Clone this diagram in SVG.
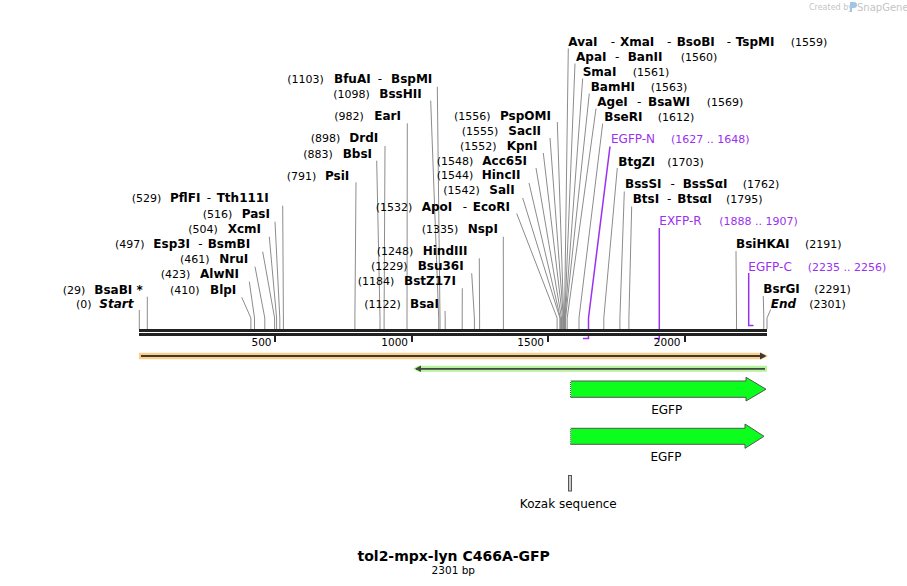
<svg xmlns="http://www.w3.org/2000/svg" width="907" height="586" viewBox="0 0 907 586">
<style>
text{font-family:"DejaVu Sans",Verdana,sans-serif;fill:#000}
.n{font-size:12px;font-weight:bold}
.i{font-style:italic}
.p{font-size:11px}
.s{font-size:12px}
.pu{fill:#9b30f0}
.t{font-size:10.5px}
.ln{fill:none;stroke:#8c8c8c;stroke-width:1}
.lp{fill:none;stroke:#9b30f0;stroke-width:1.5}
.feat{fill:#0cff1c;stroke:#555;stroke-width:1}
</style>
<rect width="907" height="586" fill="#fff"/>
<g id="logo">
<text x="809" y="10" style="font-size:8px;fill:#c4c4c4">Created by</text>
<path d="M850,2 h4 a2,2 0 0 1 0,6 h-2 v4 h-2 z" fill="#9fc6e8"/>
<text x="857" y="11" style="font-size:10px;fill:#c4c4c4">SnapGene</text>
</g>
<g id="connectors">
<polyline class="ln" points="568.3,48.5 564.5,318 564.5,329"/>
<polyline class="ln" points="575,63.5 564.8,318 564.8,329"/>
<polyline class="ln" points="582.7,78.5 565.1,318 565.1,329"/>
<polyline class="ln" points="589.3,93.5 565.6,318 565.6,329"/>
<polyline class="ln" points="596,108.5 567.2,318 567.2,329"/>
<polyline class="ln" points="602.7,123.5 579,318 579,329"/>
<polyline class="lp" points="610,146.5 588.5,318 588.5,338.5 583,338.5"/>
<polyline class="ln" points="617.3,168 603.8,318 603.8,329"/>
<polyline class="ln" points="624.3,191.5 619.9,318 619.9,329"/>
<polyline class="ln" points="631.7,206.5 628.9,318 628.9,329"/>
<polyline class="lp" points="659.3,228 659.3,338.5 654.3,338.5"/>
<polyline class="ln" points="736,251 736.5,318 736.5,329"/>
<polyline class="lp" points="748.7,273 748.7,325.5 753.5,325.5"/>
<polyline class="ln" points="763.3,296 763.8,318 763.8,329"/>
<polyline class="ln" points="770.7,309.5 767,318 767,329"/>
<polyline class="ln" points="437.3,86.7 440,318 440,329"/>
<polyline class="ln" points="430.7,100.7 438.7,318 438.7,329"/>
<polyline class="ln" points="407.3,123.3 407,318 407,329"/>
<polyline class="ln" points="385,146 384.1,318 384.1,329"/>
<polyline class="ln" points="376.7,160.7 380,318 380,329"/>
<polyline class="ln" points="356,182.3 354.9,318 354.9,329"/>
<polyline class="ln" points="557.3,122 563.7,318 563.7,329"/>
<polyline class="ln" points="550,138 563.4,318 563.4,329"/>
<polyline class="ln" points="543.3,153 562.6,318 562.6,329"/>
<polyline class="ln" points="536,168 561.5,318 561.5,329"/>
<polyline class="ln" points="529,183 560.4,318 560.4,329"/>
<polyline class="ln" points="522.7,198 559.9,318 559.9,329"/>
<polyline class="ln" points="516.7,213.5 557.1,318 557.1,329"/>
<polyline class="ln" points="503.3,236.7 503.4,318 503.4,329"/>
<polyline class="ln" points="479.3,258.3 479.6,318 479.6,329"/>
<polyline class="ln" points="471.7,273.3 474.4,318 474.4,329"/>
<polyline class="ln" points="462.3,288.3 462.2,318 462.2,329"/>
<polyline class="ln" points="445,311 445.2,318 445.2,329"/>
<polyline class="ln" points="282.7,205.7 283.4,318 283.4,329"/>
<polyline class="ln" points="275,221.7 279.8,318 279.8,329"/>
<polyline class="ln" points="269.3,236.7 276.6,318 276.6,329"/>
<polyline class="ln" points="262.7,251.7 274.6,318 274.6,329"/>
<polyline class="ln" points="255,266.7 264.8,318 264.8,329"/>
<polyline class="ln" points="249.3,281.7 254.5,318 254.5,329"/>
<polyline class="ln" points="241.7,297.3 250.9,318 250.9,329"/>
<polyline class="ln" points="147.3,296.7 147.3,318 147.3,329"/>
<polyline class="ln" points="139.3,310 139.3,329"/>
</g>
<g id="axis">
<rect x="139" y="329" width="628" height="7" fill="#222"/>
<rect x="139" y="332" width="628" height="1" fill="#fff"/>
<rect x="274" y="336" width="2" height="6" fill="#222"/>
<rect x="411" y="336" width="2" height="6" fill="#222"/>
<rect x="547" y="336" width="2" height="6" fill="#222"/>
<rect x="684" y="336" width="2" height="6" fill="#222"/>
<text class="t" x="271.5" y="345.7" text-anchor="end">500</text>
<text class="t" x="408" y="345.7" text-anchor="end">1000</text>
<text class="t" x="544" y="345.7" text-anchor="end">1500</text>
<text class="t" x="680.5" y="345.7" text-anchor="end">2000</text>
</g>
<g id="orange-bar">
<path d="M139,352.7 H762 L768,356 L762,359.2 H139 Z" fill="#fdcf86"/>
<line x1="141" y1="356" x2="764" y2="356" stroke="#3a3a3a" stroke-width="1.8"/>
<path d="M760,352.5 L766.5,356 L760,359.5 Z" fill="#3a3a3a"/>
</g>
<g id="green-bar">
<path d="M413,368.8 L418,365.8 H767 V371.8 H418 Z" fill="#b8f19c"/>
<line x1="416" y1="368.8" x2="765" y2="368.8" stroke="#3f4a3f" stroke-width="1.8"/>
<path d="M415,368.8 L421,365.5 L421,372 Z" fill="#3f4a3f"/>
</g>
<g id="egfp1">
<path class="feat" d="M570.5,381 H746 V377.3 L766,389.2 L746,401 V397.3 H570.5 Z"/>
<line x1="570.5" y1="381" x2="570.5" y2="397.3" stroke="#fff" stroke-width="1" stroke-dasharray="1,1"/>
<text x="666.7" y="414.3" text-anchor="middle" style="font-size:12px">EGFP</text>
</g>
<g id="egfp2">
<path class="feat" d="M570.5,428.3 H745 V424 L764,436.3 L745,448.3 V444.3 H570.5 Z"/>
<line x1="570.5" y1="428.3" x2="570.5" y2="444.3" stroke="#fff" stroke-width="1" stroke-dasharray="1,1"/>
<text x="666" y="461" text-anchor="middle" style="font-size:12px">EGFP</text>
</g>
<g id="kozak">
<rect x="568.5" y="475.5" width="3" height="15.5" fill="#ccc" stroke="#555" stroke-width="1"/>
<text x="568.3" y="507.5" text-anchor="middle" style="font-size:12px">Kozak sequence</text>
</g>
<g id="title">
<text x="453.7" y="560.5" text-anchor="middle" style="font-size:14px;font-weight:bold">tol2-mpx-lyn C466A-GFP</text>
<text x="453.3" y="574" text-anchor="middle" style="font-size:10.5px">2301 bp</text>
</g>
<g id="AvaI"><text y="45.7"><tspan class="n" x="568.3">AvaI</tspan><tspan class="s" x="610.7">-</tspan><tspan class="n" x="620">XmaI</tspan><tspan class="s" x="667">-</tspan><tspan class="n" x="676.7">BsoBI</tspan><tspan class="s" x="726.7">-</tspan><tspan class="n" x="735.7">TspMI</tspan><tspan class="p" x="790.7">(1559)</tspan></text></g>
<g id="ApaI"><text y="60.7"><tspan class="n" x="576">ApaI</tspan><tspan class="s" x="615">-</tspan><tspan class="n" x="627.7">BanII</tspan><tspan class="p" x="680.7">(1560)</tspan></text></g>
<g id="SmaI"><text y="76"><tspan class="n" x="582.7">SmaI</tspan><tspan class="p" x="632.7">(1561)</tspan></text></g>
<g id="BamHI"><text y="90.7"><tspan class="n" x="590.7">BamHI</tspan><tspan class="p" x="650.7">(1563)</tspan></text></g>
<g id="AgeI"><text y="105.7"><tspan class="n" x="597.3">AgeI</tspan><tspan class="s" x="637">-</tspan><tspan class="n" x="648">BsaWI</tspan><tspan class="p" x="706.7">(1569)</tspan></text></g>
<g id="BseRI"><text y="121"><tspan class="n" x="604.3">BseRI</tspan><tspan class="p" x="657.7">(1612)</tspan></text></g>
<g id="EGFP-N"><text y="143.3" class="pu"><tspan class="s pu" x="611">EGFP-N</tspan><tspan class="p pu" x="671">(1627 .. 1648)</tspan></text></g>
<g id="BtgZI"><text y="166"><tspan class="n" x="618.3">BtgZI</tspan><tspan class="p" x="667.3">(1703)</tspan></text></g>
<g id="BssSI"><text y="188.3"><tspan class="n" x="625">BssSI</tspan><tspan class="s" x="670.5">-</tspan><tspan class="n" x="682.7">BssSαI</tspan><tspan class="p" x="742.7">(1762)</tspan></text></g>
<g id="BtsI"><text y="203.3"><tspan class="n" x="632.7">BtsI</tspan><tspan class="s" x="667">-</tspan><tspan class="n" x="677.3">BtsαI</tspan><tspan class="p" x="726">(1795)</tspan></text></g>
<g id="EXFP-R"><text y="225"><tspan class="s pu" x="659.3">EXFP-R</tspan><tspan class="p pu" x="719.3">(1888 .. 1907)</tspan></text></g>
<g id="BsiHKAI"><text y="248.3"><tspan class="n" x="736">BsiHKAI</tspan><tspan class="p" x="805">(2191)</tspan></text></g>
<g id="EGFP-C"><text y="271"><tspan class="s pu" x="748.3">EGFP-C</tspan><tspan class="p pu" x="807.7">(2235 .. 2256)</tspan></text></g>
<g id="BsrGI"><text y="293.3"><tspan class="n" x="763.3">BsrGI</tspan><tspan class="p" x="814.3">(2291)</tspan></text></g>
<g id="End"><text y="308.3"><tspan class="n i" x="770.7">End</tspan><tspan class="p" x="809.3">(2301)</tspan></text></g>
<g id="BfuAI"><text y="83.3"><tspan class="p" x="287.3">(1103)</tspan><tspan class="n" x="334">BfuAI</tspan><tspan class="s" x="377.7">-</tspan><tspan class="n" x="391">BspMI</tspan></text></g>
<g id="BssHII"><text y="98.3"><tspan class="p" x="333.3">(1098)</tspan><tspan class="n" x="379.3">BssHII</tspan></text></g>
<g id="EarI"><text y="120"><tspan class="p" x="334.3">(982)</tspan><tspan class="n" x="374.3">EarI</tspan></text></g>
<g id="DrdI"><text y="142.3"><tspan class="p" x="310.7">(898)</tspan><tspan class="n" x="349.3">DrdI</tspan></text></g>
<g id="BbsI"><text y="157.7"><tspan class="p" x="303.3">(883)</tspan><tspan class="n" x="342.7">BbsI</tspan></text></g>
<g id="PsiI"><text y="180"><tspan class="p" x="286.7">(791)</tspan><tspan class="n" x="325">PsiI</tspan></text></g>
<g id="PspOMI"><text y="120"><tspan class="p" x="454">(1556)</tspan><tspan class="n" x="500">PspOMI</tspan></text></g>
<g id="SacII"><text y="135"><tspan class="p" x="461.7">(1555)</tspan><tspan class="n" x="508.3">SacII</tspan></text></g>
<g id="KpnI"><text y="150"><tspan class="p" x="460">(1552)</tspan><tspan class="n" x="506.7">KpnI</tspan></text></g>
<g id="Acc65I"><text y="165"><tspan class="p" x="436.7">(1548)</tspan><tspan class="n" x="482.3">Acc65I</tspan></text></g>
<g id="HincII"><text y="179.3"><tspan class="p" x="436.7">(1544)</tspan><tspan class="n" x="481.7">HincII</tspan></text></g>
<g id="SalI"><text y="194.3"><tspan class="p" x="443.3">(1542)</tspan><tspan class="n" x="489.3">SalI</tspan></text></g>
<g id="ApoI"><text y="211"><tspan class="p" x="375.7">(1532)</tspan><tspan class="n" x="421.7">ApoI</tspan><tspan class="s" x="462.7">-</tspan><tspan class="n" x="472.7">EcoRI</tspan></text></g>
<g id="NspI"><text y="233.3"><tspan class="p" x="421.7">(1335)</tspan><tspan class="n" x="467.7">NspI</tspan></text></g>
<g id="HindIII"><text y="255"><tspan class="p" x="376.7">(1248)</tspan><tspan class="n" x="422.7">HindIII</tspan></text></g>
<g id="Bsu36I"><text y="270"><tspan class="p" x="371">(1229)</tspan><tspan class="n" x="417.7">Bsu36I</tspan></text></g>
<g id="BstZ17I"><text y="285"><tspan class="p" x="357.7">(1184)</tspan><tspan class="n" x="404">BstZ17I</tspan></text></g>
<g id="BsaI"><text y="308.3"><tspan class="p" x="364.3">(1122)</tspan><tspan class="n" x="410">BsaI</tspan></text></g>
<g id="PflFI"><text y="202.3"><tspan class="p" x="131.7">(529)</tspan><tspan class="n" x="170">PflFI</tspan><tspan class="s" x="206.7">-</tspan><tspan class="n" x="216.7">Tth111I</tspan></text></g>
<g id="PasI"><text y="218.3"><tspan class="p" x="202.7">(516)</tspan><tspan class="n" x="241.7">PasI</tspan></text></g>
<g id="XcmI"><text y="233.3"><tspan class="p" x="188.3">(504)</tspan><tspan class="n" x="227.7">XcmI</tspan></text></g>
<g id="Esp3I"><text y="248.3"><tspan class="p" x="115">(497)</tspan><tspan class="n" x="153.3">Esp3I</tspan><tspan class="s" x="198.3">-</tspan><tspan class="n" x="207.7">BsmBI</tspan></text></g>
<g id="NruI"><text y="263.3"><tspan class="p" x="180">(461)</tspan><tspan class="n" x="219.3">NruI</tspan></text></g>
<g id="AlwNI"><text y="278.3"><tspan class="p" x="160.7">(423)</tspan><tspan class="n" x="200">AlwNI</tspan></text></g>
<g id="BlpI"><text y="294"><tspan class="p" x="170">(410)</tspan><tspan class="n" x="210">BlpI</tspan></text></g>
<g id="BsaBI"><text y="294"><tspan class="p" x="62.7">(29)</tspan><tspan class="n" x="94.3">BsaBI *</tspan></text></g>
<g id="Start"><text y="308.3"><tspan class="p" x="76">(0)</tspan><tspan class="n i" x="99.3">Start</tspan></text></g>
</svg>
